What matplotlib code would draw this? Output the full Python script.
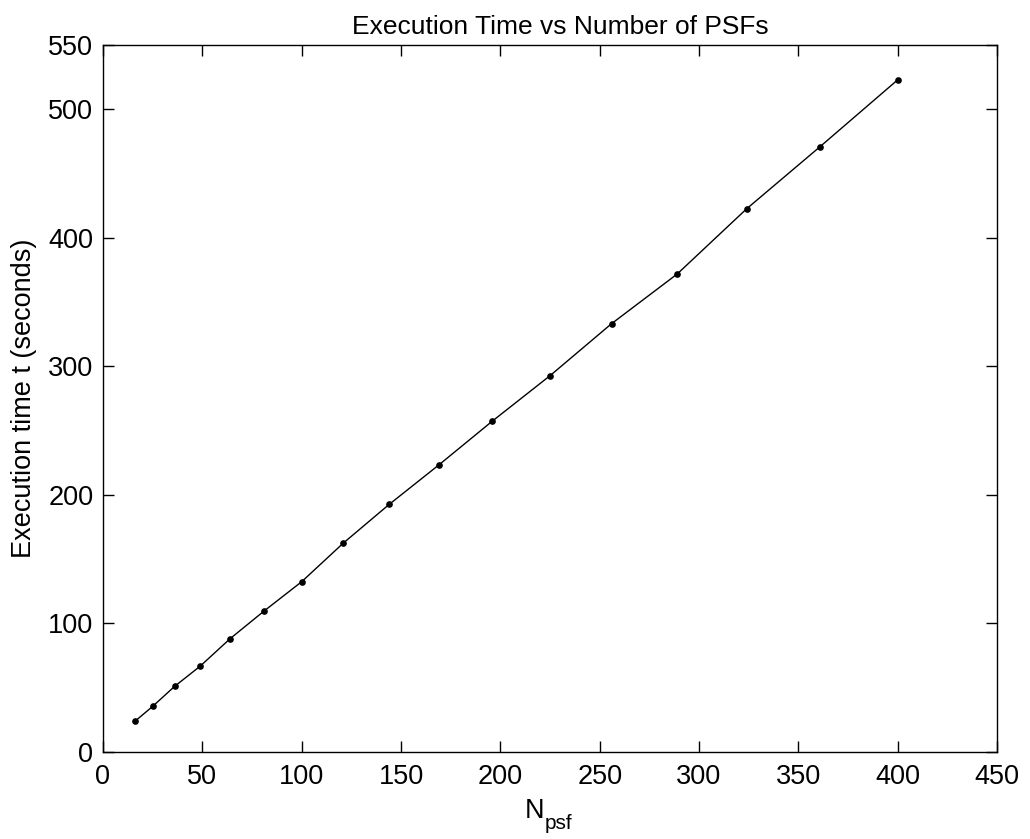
import numpy as np
import matplotlib.pyplot as plt

# number of PSFs and measured execution time (s)
n_psf = [16, 25, 36, 49, 64, 81, 100, 121, 144, 169, 196, 225, 256, 289, 324, 361, 400]
t_exec = [23.8, 35.5, 51.0, 66.9, 88.2, 109.6, 132.5, 162.6, 192.6, 223.3,
          257.5, 292.8, 333.3, 371.9, 422.7, 471.1, 523.0]

xticks = np.arange(0, 451, 50)
yticks = [0, 100, 200, 300, 400, 500, 550]

plt.rcParams['font.family'] = ['Liberation Sans', 'DejaVu Sans']

fig = plt.figure(figsize=(10.3, 8.39), dpi=100)
ax = fig.add_axes([0.1, 0.1037, 0.868, 0.8425])

ax.plot(n_psf, t_exec, 'k-', marker='o', lw=1.0, ms=3.8)

ax.set_xlim(0, 450)
ax.set_ylim(0, 550)
ax.set_xticks(xticks)
ax.set_yticks(yticks)
ax.tick_params(direction='in', length=8, width=1, top=True, right=True, labelsize=19.5)
ax.tick_params(axis='y', pad=7)
ax.tick_params(axis='x', pad=9)
for s in ax.spines.values():
    s.set_linewidth(1)

ax.set_title('Execution Time vs Number of PSFs', fontsize=19, x=0.512, pad=8)
ax.set_ylabel('Execution time t (seconds)', fontsize=19.5, labelpad=8)

# x label: N with a lowered subscript "psf"
ax.annotate('N', xy=(0.5, 0), xycoords='axes fraction', xytext=(-11, -33),
            textcoords='offset points', ha='center', va='top', fontsize=19.5)
ax.annotate('psf', xy=(0.5, 0), xycoords='axes fraction', xytext=(-3.6, -45),
            textcoords='offset points', ha='left', va='top', fontsize=15)

fig.savefig('out.png', dpi=100)
